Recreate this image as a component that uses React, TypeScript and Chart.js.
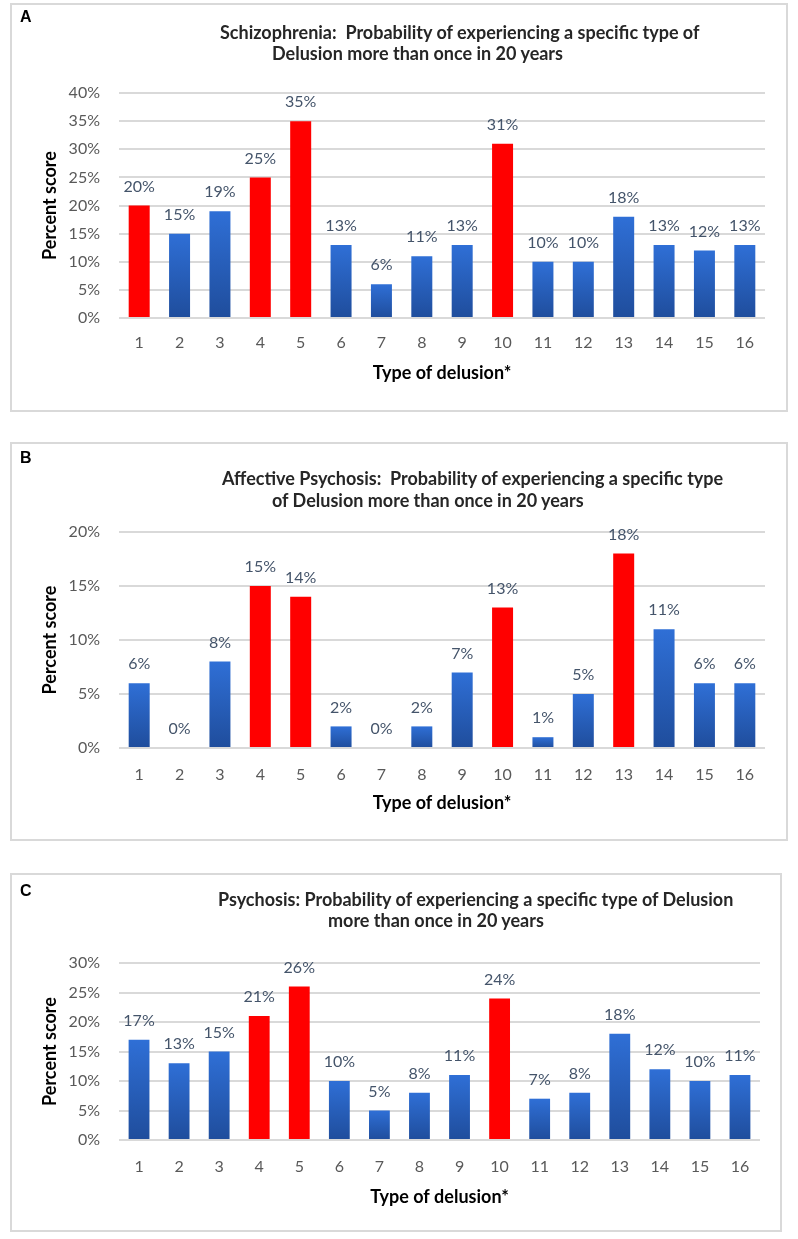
import React, { useEffect, useRef } from "react";
import { Chart, registerables } from "chart.js";

Chart.register(...registerables);

const categories = ["1", "2", "3", "4", "5", "6", "7", "8", "9", "10", "11", "12", "13", "14", "15", "16"];

const valuesA = [20, 15, 19, 25, 35, 13, 6, 11, 13, 31, 10, 10, 18, 13, 12, 13];
const highlightA = [1, 4, 5, 10];
const titleA = ["Schizophrenia:  Probability of experiencing a specific type of", "Delusion more than once in 20 years"];

const valuesB = [6, 0, 8, 15, 14, 2, 0, 2, 7, 13, 1, 5, 18, 11, 6, 6];
const highlightB = [4, 5, 10, 13];
const titleB = ["Affective Psychosis:  Probability of experiencing a specific type", "of Delusion more than once in 20 years"];

const valuesC = [17, 13, 15, 21, 26, 10, 5, 8, 11, 24, 7, 8, 18, 12, 10, 11];
const highlightC = [4, 5, 10];
const titleC = ["Psychosis: Probability of experiencing a specific type of Delusion", "more than once in 20 years"];

const yTicksA = { max: 40, step: 5 };
const yTicksB = { max: 20, step: 5 };
const yTicksC = { max: 30, step: 5 };

const X_TITLE = "Type of delusion*";
const Y_TITLE = "Percent score";

const FONT = "Lato, 'Open Sans', sans-serif";
const BLUE_TOP = "#2f6fd6";
const BLUE_BOTTOM = "#1f4d9c";
const RED = "#ff0000";

type PanelCfg = {
  letter: string;
  values: number[];
  highlight: number[];
  title: string[];
  yMax: number;
  yStep: number;
  box: { left: number; top: number; width: number; height: number };
  letterY: number;
  titleLines: { x: number; y: number }[];
  padRight: number;
  xHeight: number;
  xTickPad: number;
  xTitlePad: number;
};

const panels: PanelCfg[] = [
  {
    letter: "A",
    values: valuesA,
    highlight: highlightA,
    title: titleA,
    yMax: yTicksA.max,
    yStep: yTicksA.step,
    box: { left: 10, top: 3, width: 778, height: 409 },
    letterY: 17,
    titleLines: [{ x: 220, y: 32 }, { x: 272, y: 53 }],
    padRight: 21,
    xHeight: 92,
    xTickPad: 15.4,
    xTitlePad: 26.2,
  },
  {
    letter: "B",
    values: valuesB,
    highlight: highlightB,
    title: titleB,
    yMax: yTicksB.max,
    yStep: yTicksB.step,
    box: { left: 10, top: 442, width: 778, height: 399 },
    letterY: 458,
    titleLines: [{ x: 222, y: 478 }, { x: 272, y: 500 }],
    padRight: 21,
    xHeight: 91,
    xTickPad: 17.4,
    xTitlePad: 25.2,
  },
  {
    letter: "C",
    values: valuesC,
    highlight: highlightC,
    title: titleC,
    yMax: yTicksC.max,
    yStep: yTicksC.step,
    box: { left: 10, top: 873, width: 772, height: 359 },
    letterY: 891,
    titleLines: [{ x: 218, y: 899 }, { x: 328, y: 920 }],
    padRight: 20,
    xHeight: 90,
    xTickPad: 17.4,
    xTitlePad: 22.2,
  },
];

const valueLabelPlugin = {
  id: "valueLabels",
  afterDatasetsDraw(chart: any) {
    const ctx = chart.ctx;
    const meta = chart.getDatasetMeta(0);
    const data = chart.data.datasets[0].data as number[];
    ctx.save();
    ctx.font = `16px ${FONT}`;
    ctx.fillStyle = "#44546a";
    ctx.textAlign = "center";
    ctx.textBaseline = "middle";
    meta.data.forEach((bar: any, i: number) => {
      ctx.fillText(`${data[i]}%`, bar.x, bar.y - 19);
    });
    ctx.restore();
  },
};

function Panel({ cfg }: { cfg: PanelCfg }) {
  const ref = useRef<HTMLCanvasElement | null>(null);
  const cw = cfg.box.width - 4;
  const ch = cfg.box.height - 4;

  useEffect(() => {
    if (!ref.current) return;
    const chart = new Chart(ref.current, {
      type: "bar",
      data: {
        labels: categories,
        datasets: [
          {
            data: cfg.values,
            borderWidth: 0,
            categoryPercentage: 1,
            barPercentage: 0.52,
            backgroundColor: (c: any) => {
              const idx = c.dataIndex;
              if (cfg.highlight.includes(idx + 1)) return RED;
              const chartObj = c.chart;
              const ys = chartObj.scales && chartObj.scales.y;
              if (!ys || !chartObj.chartArea) return BLUE_TOP;
              const v = cfg.values[idx];
              const top = ys.getPixelForValue(v);
              const bottom = ys.getPixelForValue(0);
              if (!isFinite(top) || !isFinite(bottom) || bottom - top < 1) return BLUE_TOP;
              const g = chartObj.ctx.createLinearGradient(0, top, 0, bottom);
              g.addColorStop(0, BLUE_TOP);
              g.addColorStop(1, BLUE_BOTTOM);
              return g;
            },
          },
        ],
      },
      options: {
        responsive: false,
        animation: false,
        devicePixelRatio: 1,
        layout: { padding: { top: 88, right: cfg.padRight, bottom: 0, left: 0 } },
        plugins: {
          legend: { display: false },
          tooltip: { enabled: false },
          title: { display: false },
        },
        scales: {
          x: {
            grid: { display: false, drawTicks: false },
            border: { display: false },
            ticks: {
              color: "#595959",
              font: { family: FONT, size: 16 },
              padding: cfg.xTickPad,
              maxRotation: 0,
              autoSkip: false,
            },
            title: {
              display: true,
              text: X_TITLE,
              color: "#000000",
              font: { family: FONT, size: 18, weight: "bold" },
              padding: { top: 0, bottom: cfg.xTitlePad },
            },
            afterFit: (s: any) => {
              s.height = cfg.xHeight;
            },
          },
          y: {
            min: 0,
            max: cfg.yMax,
            grid: { color: "#d9d9d9", lineWidth: 2, drawTicks: false },
            border: { display: false },
            ticks: {
              stepSize: cfg.yStep,
              color: "#595959",
              font: { family: FONT, size: 16 },
              padding: 19,
              callback: (v: any) => `${v}%`,
            },
            title: {
              display: true,
              text: Y_TITLE,
              color: "#000000",
              font: { family: FONT, size: 18, weight: "bold" },
              padding: { top: 27.2, bottom: 0 },
            },
            afterFit: (s: any) => {
              s.width = 107;
            },
          },
        },
      } as any,
      plugins: [valueLabelPlugin],
    });
    return () => chart.destroy();
  }, []);

  return (
    <>
      <div
        style={{
          position: "absolute",
          left: cfg.box.left,
          top: cfg.box.top,
          width: cfg.box.width - 4,
          height: cfg.box.height - 4,
          border: "2px solid #d9d9d9",
          background: "#ffffff",
        }}
      >
        <canvas ref={ref} width={cw} height={ch} style={{ display: "block", width: cw, height: ch }} />
      </div>
      <div
        style={{
          position: "absolute",
          left: 20,
          top: cfg.letterY - 10,
          lineHeight: "20px",
          fontFamily: "'Liberation Sans', Arial, sans-serif",
          fontWeight: "bold",
          fontSize: 16,
          color: "#000",
        }}
      >
        {cfg.letter}
      </div>
      {cfg.title.map((line, i) => (
        <div
          key={i}
          style={{
            position: "absolute",
            left: cfg.titleLines[i].x,
            top: cfg.titleLines[i].y - 11,
            lineHeight: "22px",
            fontFamily: FONT,
            fontWeight: "bold",
            fontSize: 18,
            color: "#262626",
            whiteSpace: "pre",
          }}
        >
          {line}
        </div>
      ))}
    </>
  );
}

export default function App() {
  return (
    <div style={{ position: "absolute", left: 0, top: 0, width: 798, height: 1239, background: "#ffffff" }}>
      {panels.map((p) => (
        <Panel key={p.letter} cfg={p} />
      ))}
    </div>
  );
}
